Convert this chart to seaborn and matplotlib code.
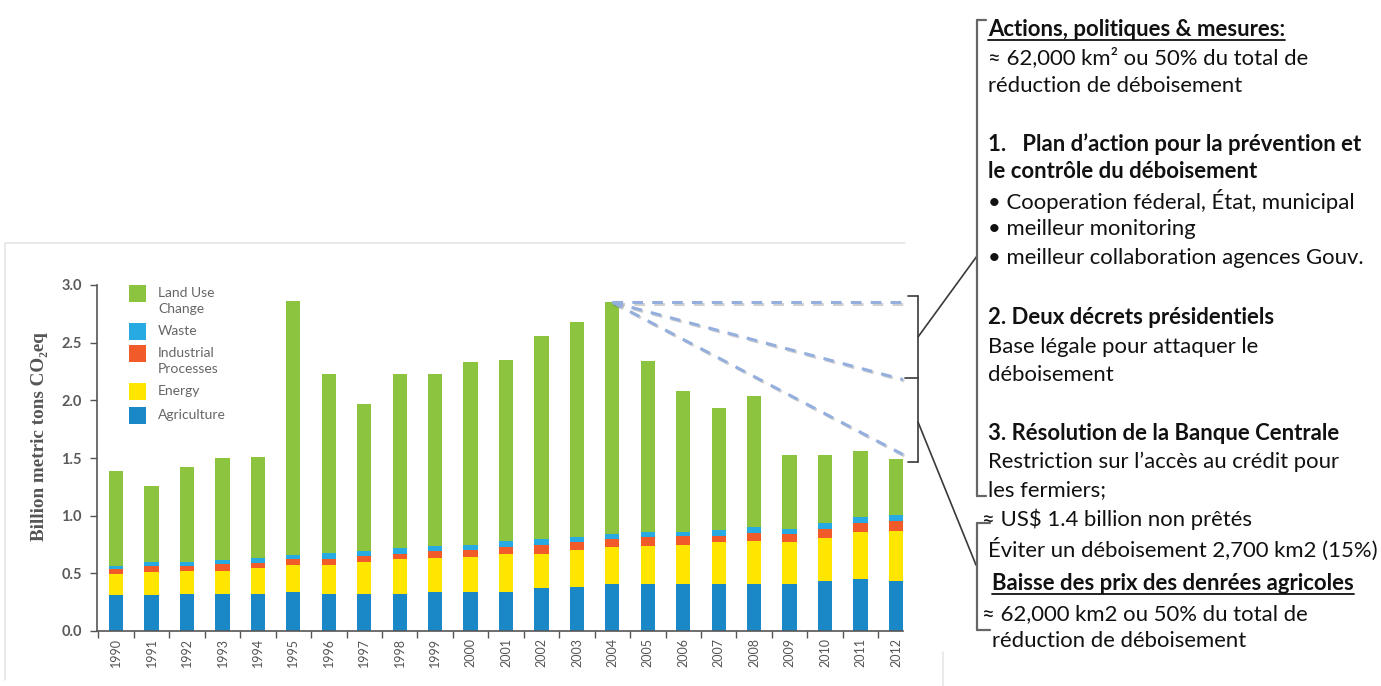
import matplotlib
matplotlib.use("Agg")
import matplotlib.pyplot as plt
import matplotlib.patheffects as pe
from matplotlib.lines import Line2D
from matplotlib.patches import Rectangle
import numpy as np
import pandas as pd
import seaborn as sns

# Brazil GHG emissions by sector, billion metric tons CO2eq
years = [str(y) for y in range(1990, 2013)]
agriculture = [0.31, 0.31, 0.32, 0.32, 0.32, 0.34, 0.32, 0.32, 0.32, 0.34, 0.34, 0.34,
               0.37, 0.38, 0.41, 0.41, 0.41, 0.41, 0.41, 0.41, 0.43, 0.45, 0.43]
energy = [0.18, 0.20, 0.20, 0.20, 0.23, 0.23, 0.25, 0.28, 0.30, 0.29, 0.30, 0.33,
          0.30, 0.32, 0.32, 0.33, 0.34, 0.36, 0.37, 0.36, 0.38, 0.41, 0.44]
industrial = [0.045, 0.05, 0.045, 0.06, 0.04, 0.055, 0.055, 0.05, 0.05, 0.06, 0.065, 0.06,
              0.075, 0.07, 0.07, 0.075, 0.075, 0.055, 0.07, 0.07, 0.075, 0.075, 0.085]
waste = [0.03, 0.04, 0.035, 0.035, 0.04, 0.035, 0.05, 0.045, 0.05, 0.045, 0.045, 0.05,
         0.05, 0.045, 0.04, 0.045, 0.035, 0.05, 0.05, 0.045, 0.05, 0.05, 0.055]
totals = [1.39, 1.26, 1.42, 1.50, 1.51, 2.86, 2.23, 1.97, 2.23, 2.23, 2.33, 2.35,
          2.56, 2.68, 2.85, 2.34, 2.08, 1.93, 2.04, 1.53, 1.53, 1.56, 1.49]

series = ["Agriculture", "Energy", "Industrial\nProcesses", "Waste", "Land Use\nChange"]
colors = ["#1a87c6", "#ffe600", "#f15a29", "#27aae1", "#8cc43f"]
y_ticks = [0.0, 0.5, 1.0, 1.5, 2.0, 2.5, 3.0]

sns.set_theme(style="white")
plt.rcParams["font.family"] = ["Lato", "DejaVu Sans"]

W, H = 1381, 686
fig = plt.figure(figsize=(W / 100, H / 100), dpi=100)


def fx(x):
    return x / W


def fy(y):
    return 1 - y / H


# cumulative stack heights
df = pd.DataFrame({"year": years, "Agriculture": agriculture, "Energy": energy,
                   "Industrial\nProcesses": industrial, "Waste": waste})
cum = df[series[:-1]].cumsum(axis=1)
cum["Land Use\nChange"] = totals
cum["year"] = years

ax = fig.add_axes([fx(97), fy(631), fx(903) - fx(97), fy(285) - fy(631)])
for name, col in zip(series[::-1], colors[::-1]):
    sns.barplot(data=cum, x="year", y=name, order=years, color=col, saturation=1,
                width=0.4, linewidth=0, ax=ax)

ax.set_xlim(-0.54, 22.2)
ax.set_ylim(0, 3.0)
ax.set_xlabel("")
ax.set_ylabel("")
ax.set_yticks(y_ticks)
ax.set_yticklabels([f"{v:.1f}" for v in y_ticks], fontsize=10.5, color="#5a5a5a",
                   fontweight="bold")
ax.set_xticks(range(len(years)))
ax.set_xticklabels(years, rotation=90, fontsize=9, color="#555555")
ax.set_xticks(np.arange(-0.5, len(years) - 0.5, 1.0), minor=True)
ax.tick_params(axis="x", which="major", length=0, pad=5)
ax.tick_params(axis="x", which="minor", length=5, width=1, color="#555555",
               direction="out", bottom=True)
ax.tick_params(axis="y", length=5, width=1, color="#555555", left=True, pad=6)
for s in ["top", "right"]:
    ax.spines[s].set_visible(False)
for s in ["left", "bottom"]:
    ax.spines[s].set_color("#555555")
    ax.spines[s].set_linewidth(1.2)
ax.grid(False)

fig.text(fx(40), fy(437), "Billion metric tons CO₂eq", rotation=90, ha="center",
         va="center", fontsize=13.8, color="#555555", fontweight="bold",
         family=["Liberation Serif", "DejaVu Serif"])

# legend
leg_rows = [("Land Use", "Change", colors[4], 285),
            ("Waste", None, colors[3], 323),
            ("Industrial", "Processes", colors[2], 345),
            ("Energy", None, colors[1], 383),
            ("Agriculture", None, colors[0], 407)]
for l1, l2, col, top in leg_rows:
    fig.add_artist(Rectangle((fx(129), fy(top + 17)), fx(17), fy(top) - fy(top + 17),
                             transform=fig.transFigure, color=col, lw=0))
    fig.text(fx(158), fy(top + 8), l1, fontsize=10, color="#666666", va="center")
    if l2:
        fig.text(fx(158), fy(top + 24), l2, fontsize=10, color="#666666", va="center")

# faint frame of the chart panel
frame_kw = dict(transform=fig.transFigure, color="#e6e6e6", lw=1.2)
fig.add_artist(Line2D([fx(5), fx(5)], [fy(243), fy(680)], **frame_kw))
fig.add_artist(Line2D([fx(5), fx(905)], [fy(243), fy(243)], **frame_kw))
fig.add_artist(Line2D([fx(943), fx(943)], [fy(652), fy(686)], **frame_kw))

# dashed guides from the 2004 peak
peak_i = years.index("2004")
dash_kw = dict(color="#94afdd", lw=2.2, linestyle=(0, (3.5, 3)), clip_on=False,
               path_effects=[pe.SimpleLineShadow(offset=(1, -1), alpha=0.2),
                             pe.Normal()], zorder=5)
for yt in [totals[peak_i], 2.18, 1.53]:
    ax.plot([peak_i, 22.2], [totals[peak_i], yt], **dash_kw)

# brackets and connectors
br = dict(transform=fig.transFigure, color="#3a3a3a", lw=1.2)


def seg(x0, y0, x1, y1, **kw):
    fig.add_artist(Line2D([fx(x0), fx(x1)], [fy(y0), fy(y1)], **(kw or br)))


seg(908, 296, 918, 296)
seg(918, 296, 918, 462)
seg(908, 462, 918, 462)
seg(905, 378, 918, 378)
seg(918, 337, 977, 256)
seg(918, 422, 976, 565)

big = dict(transform=fig.transFigure, color="#666666", lw=1.6)
seg(977, 20, 986, 20, **big)
seg(977, 20, 977, 496, **big)
seg(977, 496, 986, 496, **big)
seg(977, 523, 990, 523, **big)
seg(977, 523, 977, 630, **big)
seg(977, 630, 990, 630, **big)

# annotation text
tsize = 15.9
lines = [
    (988, 30, "Actions, politiques & mesures:", "bold", True),
    (988, 58, "≈ 62,000 km² ou 50% du total de", "normal", False),
    (988, 86, "réduction de déboisement", "normal", False),
    (988, 144, "1.   Plan d’action pour la prévention et", "bold", False),
    (988, 172, "le contrôle du déboisement", "bold", False),
    (988, 201, "• Cooperation féderal, État, municipal", "normal", False),
    (988, 229, "• meilleur monitoring", "normal", False),
    (988, 258, "• meilleur collaboration agences Gouv.", "normal", False),
    (988, 318, "2. Deux décrets présidentiels", "bold", False),
    (988, 347, "Base légale pour attaquer le", "normal", False),
    (988, 375, "déboisement", "normal", False),
    (988, 433, "3. Résolution de la Banque Centrale", "bold", False),
    (988, 462, "Restriction sur l’accès au crédit pour", "normal", False),
    (988, 490, "les fermiers;", "normal", False),
    (982, 519, "≈ US$ 1.4 billion non prêtés", "normal", False),
    (988, 549, "Éviter un déboisement 2,700 km2 (15%)", "normal", False),
    (992, 584, "Baisse des prix des denrées agricoles", "bold", True),
    (982, 614, "≈ 62,000 km2 ou 50% du total de", "normal", False),
    (992, 641, "réduction de déboisement", "normal", False),
]
texts = []
for x, y, s, w, ul in lines:
    t = fig.text(fx(x), fy(y), s, fontsize=tsize, fontweight=w, color="#111111",
                 va="center", ha="left")
    texts.append((t, ul))

fig.canvas.draw()
renderer = fig.canvas.get_renderer()
for t, ul in texts:
    if ul:
        bb = t.get_window_extent(renderer)
        yline = bb.y0 + 1
        fig.add_artist(Line2D([bb.x0 / W, bb.x1 / W], [yline / H, yline / H],
                              transform=fig.transFigure, color="#111111", lw=1.3))

fig.savefig("out.png", dpi=100)
